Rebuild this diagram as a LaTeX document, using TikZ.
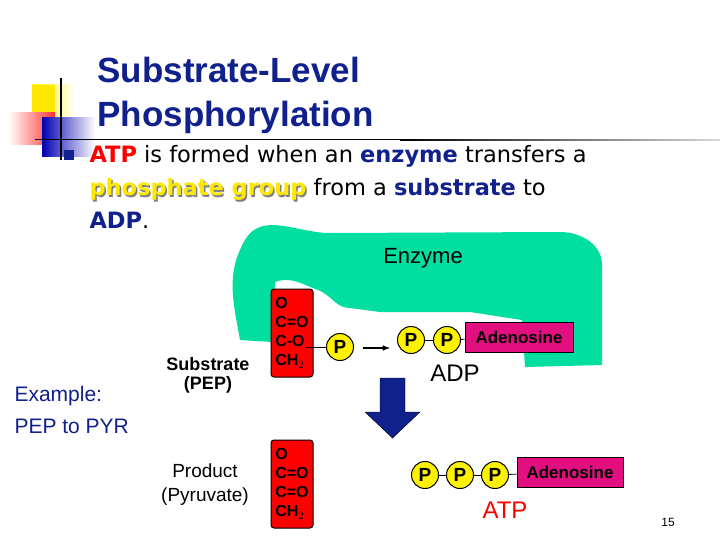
\documentclass[tikz,border=0pt]{standalone}
\usepackage{fontspec}
\setmainfont{DejaVu Sans}
\newfontfamily\arial{Liberation Sans}
\definecolor{enzg}{RGB}{0,222,160}
\definecolor{navy}{RGB}{16,32,140}
\begin{document}
\begin{tikzpicture}[x=1pt,y=-1pt,
  pcirc/.style={circle,draw,line width=1pt,fill=yellow,minimum size=27pt,inner sep=0pt,font=\arial\bfseries\fontsize{19}{19}\selectfont},
  adbox/.style={draw,line width=1pt,fill=magenta!80!purple,minimum width=108pt,minimum height=30pt,inner sep=0pt,font=\arial\bfseries\fontsize{17}{17}\selectfont},
  molbox/.style={draw,line width=1pt,fill=red,rounded corners=3pt,minimum width=42pt,minimum height=88pt,inner sep=0pt,align=left,font=\arial\bfseries\fontsize{16}{19}\selectfont},
  lbl/.style={font=\arial\fontsize{22}{22}\selectfont,align=center},
  bond/.style={line width=0.8pt}]
\useasboundingbox (0,0) rectangle (720,540);
\fill[white] (0,0) rectangle (720,540);
% decoration
\shade[left color=yellow!90!orange,right color=white] (32,85) rectangle (75,118);
\fill[yellow!90!orange] (32,85) rectangle (55,118);
\shade[left color=white,right color=red!80] (8,113) rectangle (55,145);
\shade[left color=blue!70!black,right color=white] (42,118) rectangle (95,157);
\draw[line width=1.2pt] (61,78) -- (61,160);
\draw[line width=1pt] (35,140) -- (400,140);
\shade[left color=black,right color=gray!30] (400,139.5) rectangle (720,140.5);
% title
\node[anchor=west,text=navy,font=\arial\bfseries\fontsize{35}{44}\selectfont,align=left] (title) at (94,95) {Substrate-Level\\Phosphorylation};
\fill[navy] (64,150) rectangle (74,160);
\node[anchor=west,font=\fontsize{22.5}{33}\selectfont,align=left] (body) at (86,187) {\textcolor{red}{\bfseries ATP} is formed when an \textcolor{navy}{\bfseries enzyme} transfers a\\\rlap{\hspace{1.5pt}\raisebox{-1.5pt}{\textcolor{gray}{\bfseries phosphate group}}}\textcolor{yellow!90!orange}{\bfseries phosphate group} from a \textcolor{navy}{\bfseries substrate} to\\\textcolor{navy}{\bfseries ADP}.};
% enzyme blob
\fill[enzg] (245,240) to[out=60,in=180] (330,233) -- (560,232) to[out=0,in=90] (602,265) -- (602,365) -- (525,367) -- (522,320) -- (470,312) -- (380,312) -- (350,308) to[out=180,in=-20] (318,290) to[out=160,in=20] (275,282) -- (272,342) -- (240,340) to[out=100,in=-120] (245,240);
\node[lbl] (enz) at (423,258) {Enzyme};
% PEP
\node[molbox] (pep) at (292,333) {O\\C=O\\C-O\\CH$_2$};
\node[lbl,font=\arial\bfseries\fontsize{18}{19}\selectfont] (sub) at (208,375) {Substrate\\(PEP)};
\node[pcirc] (p0) at (340,347) {P};
\draw[bond] (306,347) -- (p0);
\coordinate (a1) at (363,348); \coordinate (a2) at (390,348);
\draw[-latex,line width=1.5pt] (a1) -- (a2);
\node[pcirc] (p1) at (411,340) {P};
\node[pcirc] (p2) at (447,340) {P};
\node[adbox] (ad1) at (519,337) {Adenosine};
\draw[bond] (p1) -- (p2); \draw[bond] (p2) -- (ad1);
\node[lbl,font=\arial\fontsize{24}{24}\selectfont] (adp) at (455,373) {ADP};
% blue arrow
\fill[navy,draw=black] (380,378) -- (405,378) -- (405,412) -- (420,412) -- (392.5,438) -- (365,412) -- (380,412) -- cycle;
% example
\node[anchor=west,text=navy,font=\arial\fontsize{21}{32}\selectfont,align=left] (ex) at (11,410) {Example:\\PEP to PYR};
% product
\node[molbox] (pyr) at (292,484) {O\\C=O\\C=O\\CH$_2$};
\node[lbl,font=\arial\fontsize{19}{24}\selectfont] (prod) at (205,485) {Product\\(Pyruvate)};
\node[pcirc] (q1) at (425,475) {P};
\node[pcirc] (q2) at (460,475) {P};
\node[pcirc] (q3) at (495,475) {P};
\node[adbox,minimum width=106pt] (ad2) at (570,472) {Adenosine};
\draw[bond] (q1) -- (q2); \draw[bond] (q2) -- (q3); \draw[bond] (q3) -- (ad2);
\node[lbl,text=red,font=\arial\fontsize{24}{24}\selectfont] (atp) at (505,510) {ATP};
\node[font=\arial\fontsize{12}{12}\selectfont] (pg) at (668,522) {15};
\end{tikzpicture}
\end{document}
